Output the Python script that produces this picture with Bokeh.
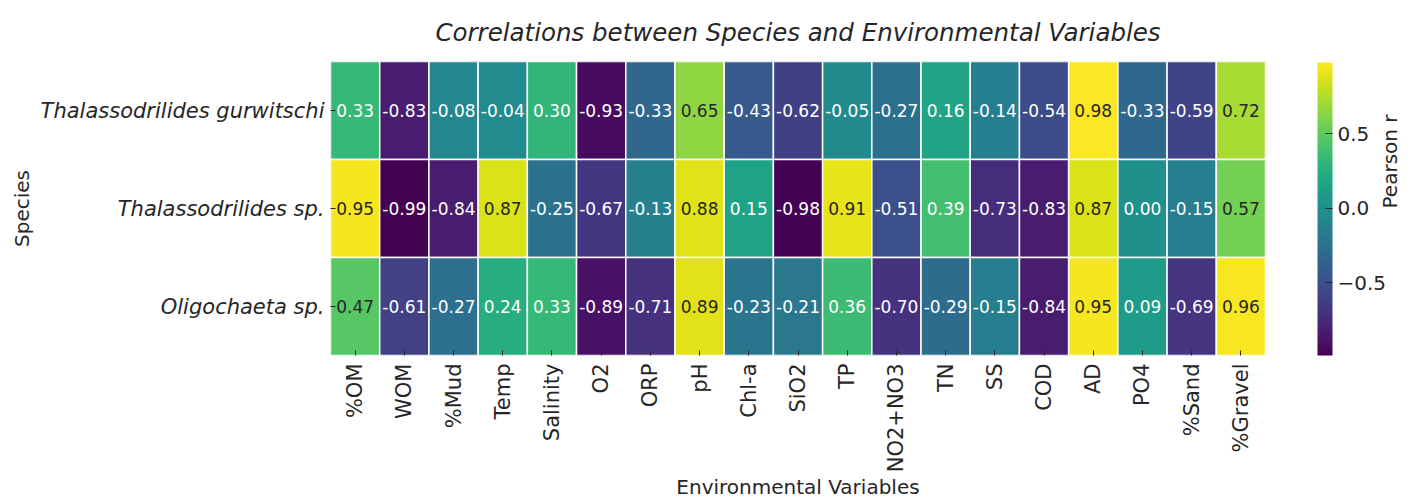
import math
from bokeh.plotting import figure
from bokeh.models import (ColumnDataSource, FactorRange, LinearColorMapper, ColorBar,
                          FixedTicker, CategoricalAxis)
from bokeh.palettes import Viridis256
from bokeh.transform import transform
from bokeh.embed import file_html
from bokeh.resources import INLINE

# ---------------- data ----------------
variables = ["%OM", "WOM", "%Mud", "Temp", "Salinity", "O2", "ORP", "pH", "Chl-a", "SiO2",
             "TP", "NO2+NO3", "TN", "SS", "COD", "AD", "PO4", "%Sand", "%Gravel"]
species = ["Thalassodrilides gurwitschi", "Thalassodrilides sp.", "Oligochaeta sp."]

r_gurwitschi = [0.33, -0.83, -0.08, -0.04, 0.30, -0.93, -0.33, 0.65, -0.43, -0.62,
                -0.05, -0.27, 0.16, -0.14, -0.54, 0.98, -0.33, -0.59, 0.72]
r_thal_sp = [0.95, -0.99, -0.84, 0.87, -0.25, -0.67, -0.13, 0.88, 0.15, -0.98,
             0.91, -0.51, 0.39, -0.73, -0.83, 0.87, 0.00, -0.15, 0.57]
r_oligo = [0.47, -0.61, -0.27, 0.24, 0.33, -0.89, -0.71, 0.89, -0.23, -0.21,
           0.36, -0.70, -0.29, -0.15, -0.84, 0.95, 0.09, -0.69, 0.96]
series = [r_gurwitschi, r_thal_sp, r_oligo]
cbar_ticks = [-0.5, 0.0, 0.5]
cbar_tick_labels = {-0.5: "\u22120.5", 0: "0.0", 0.5: "0.5"}

# ---------------- table ----------------
all_vals = [v for s in series for v in s]
vmin, vmax = min(all_vals), max(all_vals)

def lum(hexc):
    rgb = [int(hexc[i:i + 2], 16) / 255 for i in (1, 3, 5)]
    lin = [c / 12.92 if c <= 0.03928 else ((c + 0.055) / 1.055) ** 2.4 for c in rgb]
    return 0.2126 * lin[0] + 0.7152 * lin[1] + 0.0722 * lin[2]

xs, ys, vals, labels, tcolors = [], [], [], [], []
for sp, s in zip(species, series):
    for var, v in zip(variables, s):
        xs.append(var)
        ys.append(sp)
        vals.append(v)
        labels.append(f"{v:.2f}")
        idx = int(round((v - vmin) / (vmax - vmin) * 255))
        tcolors.append("#262626" if lum(Viridis256[idx]) > 0.408 else "#ffffff")

src = ColumnDataSource(dict(x=xs, y=ys, v=vals, label=labels, tc=tcolors))
mapper = LinearColorMapper(palette=Viridis256, low=vmin, high=vmax)

p = figure(width=1416, height=504, output_backend="svg", toolbar_location=None,
           x_range=FactorRange(*variables), y_range=FactorRange(*reversed(species)),
           title="Correlations between Species and Environmental Variables",
           min_border_left=330, min_border_right=151, min_border_top=60,
           min_border_bottom=149)
p.extra_y_ranges = {"cb": FactorRange("cb")}
p.outline_line_color = None
p.grid.grid_line_color = None
p.background_fill_color = "white"

p.rect(x="x", y="y", width=1, height=1, source=src,
       fill_color=transform("v", mapper), line_color="white", line_width=1.5)
p.text(x="x", y="y", text="label", source=src, text_color="tc",
       text_align="center", text_baseline="middle",
       text_font={"value": "DejaVu Sans"}, text_font_size={"value": "17px"})

p.title.text_font = "DejaVu Sans"
p.title.text_font_size = "24.5px"
p.title.text_font_style = "italic"
p.title.text_color = "#262626"
p.title.align = "center"
p.title.standoff = 30

for ax in (p.xaxis[0], p.yaxis[0]):
    ax.axis_line_color = None
    ax.major_tick_in = 5
    ax.major_tick_out = 0
    ax.major_tick_line_color = "#262626"
    ax.minor_tick_line_color = None
    ax.major_label_text_font = "DejaVu Sans"
    ax.major_label_text_color = "#262626"
    ax.axis_label_text_font = "DejaVu Sans"
    ax.axis_label_text_font_style = "normal"
    ax.axis_label_text_font_size = "20px"
    ax.axis_label_text_color = "#262626"

p.xaxis.axis_label = "Environmental Variables"
p.xaxis.major_label_orientation = math.pi / 2
p.xaxis.major_label_text_font_size = "21px"
p.xaxis.major_label_standoff = 8
p.xaxis.axis_label_standoff = 0

p.yaxis.axis_label = "Species"
p.yaxis.major_label_text_font_size = "21px"
p.yaxis.major_label_text_font_style = "italic"
p.yaxis.major_label_standoff = 6
p.yaxis.axis_label_standoff = 4

cb = ColorBar(color_mapper=mapper, ticker=FixedTicker(ticks=cbar_ticks),
              width=15, height=293, margin=0, padding=0, location=(52, 0),
              major_label_text_font="DejaVu Sans", major_label_text_font_size="20px",
              major_label_text_color="#262626", major_tick_in=7, major_tick_out=0,
              major_tick_line_color="#262626", bar_line_color=None,
              border_line_color=None, background_fill_color=None, label_standoff=5,
              major_label_overrides=cbar_tick_labels)
p.add_layout(cb, "right")

ax_r = CategoricalAxis(y_range_name="cb", axis_label="Pearson r", axis_line_color=None,
                       major_tick_line_color=None, minor_tick_line_color=None,
                       major_tick_in=0, major_tick_out=0, major_label_standoff=0,
                       major_label_text_font_size="0px", major_label_text_alpha=0,
                       axis_label_text_font="DejaVu Sans",
                       axis_label_text_font_style="normal",
                       axis_label_text_font_size="20px", axis_label_text_color="#262626",
                       axis_label_standoff=0)
if "axis_label_orientation" in CategoricalAxis.properties():
    ax_r.axis_label_orientation = math.pi / 2
p.add_layout(ax_r, "right")

open("out.html", "w").write(file_html(p, INLINE))
